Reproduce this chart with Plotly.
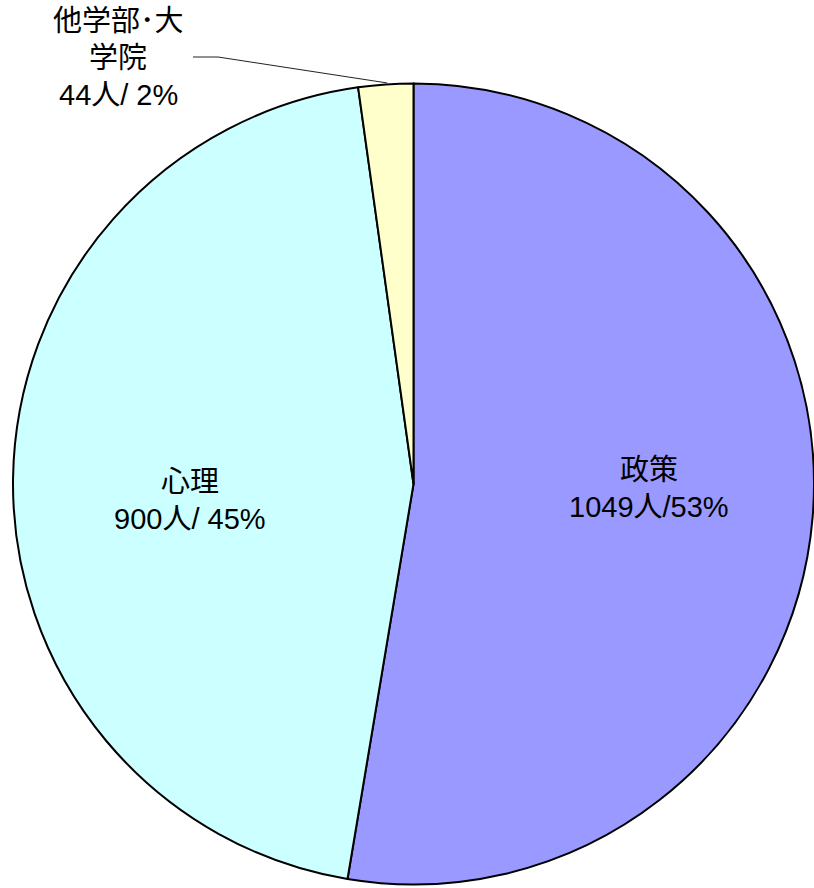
import math
import plotly.graph_objects as go

# ---- data ----
categories = ["政策", "心理", "他学部･大学院"]
values = [1049, 900, 44]
label_lines = [
    ["政策", "1049人/53%"],
    ["心理", "900人/ 45%"],
    ["他学部･大", "学院", "44人/ 2%"],
]
colors = ["#9999FF", "#CCFFFF", "#FFFFCC"]

# ---- layout constants (pixels) ----
W, H = 814, 888
CX, CY, R = 415, 484, 402  # pie centre / radius in pixels
FONT = "Liberation Sans, Arial, Noto Sans CJK JP, sans-serif"
FS = 29
LINE_GAP = 37
label_centres = [(649, 488), (190, 500), (118, 58)]
leader_start = (193, 57)
leader_kink = (218, 57)


def px(x):
    return x / W


def py(y):
    return 1 - y / H


fig = go.Figure(
    go.Pie(
        labels=categories,
        values=values,
        sort=False,
        direction="clockwise",
        rotation=0,
        marker=dict(colors=colors, line=dict(color="black", width=2)),
        textinfo="none",
        hoverinfo="label+value+percent",
        showlegend=False,
        domain=dict(x=[px(CX - R), 1], y=[py(CY + R), py(CY - R)]),
    )
)

annotations = []
for lines, (lx, ly) in zip(label_lines, label_centres):
    n = len(lines)
    for i, t in enumerate(lines):
        y = ly + (i - (n - 1) / 2) * LINE_GAP
        annotations.append(
            dict(
                x=px(lx), y=py(y), xref="paper", yref="paper",
                text=t, showarrow=False, xanchor="center", yanchor="middle",
                font=dict(family=FONT, size=FS, color="black"),
            )
        )

# leader line for the small slice, end point from its mid angle
total = sum(values)
start = sum(values[:2]) / total
mid = (start + values[2] / total / 2) * 2 * math.pi
ex = CX + R * math.sin(mid)
ey = CY - R * math.cos(mid)
path = (
    f"M {px(leader_start[0])},{py(leader_start[1])} "
    f"L {px(leader_kink[0])},{py(leader_kink[1])} "
    f"L {px(ex)},{py(ey)}"
)
fig.update_layout(
    width=W, height=H,
    margin=dict(l=0, r=0, t=0, b=0),
    paper_bgcolor="white", plot_bgcolor="white",
    annotations=annotations,
    shapes=[dict(type="path", path=path, xref="paper", yref="paper",
                 line=dict(color="#222222", width=1))],
)

fig.write_html(
    "out.html",
    config={"displayModeBar": False},
    post_script="document.body.style.margin='0';document.body.style.overflow='hidden';",
)
